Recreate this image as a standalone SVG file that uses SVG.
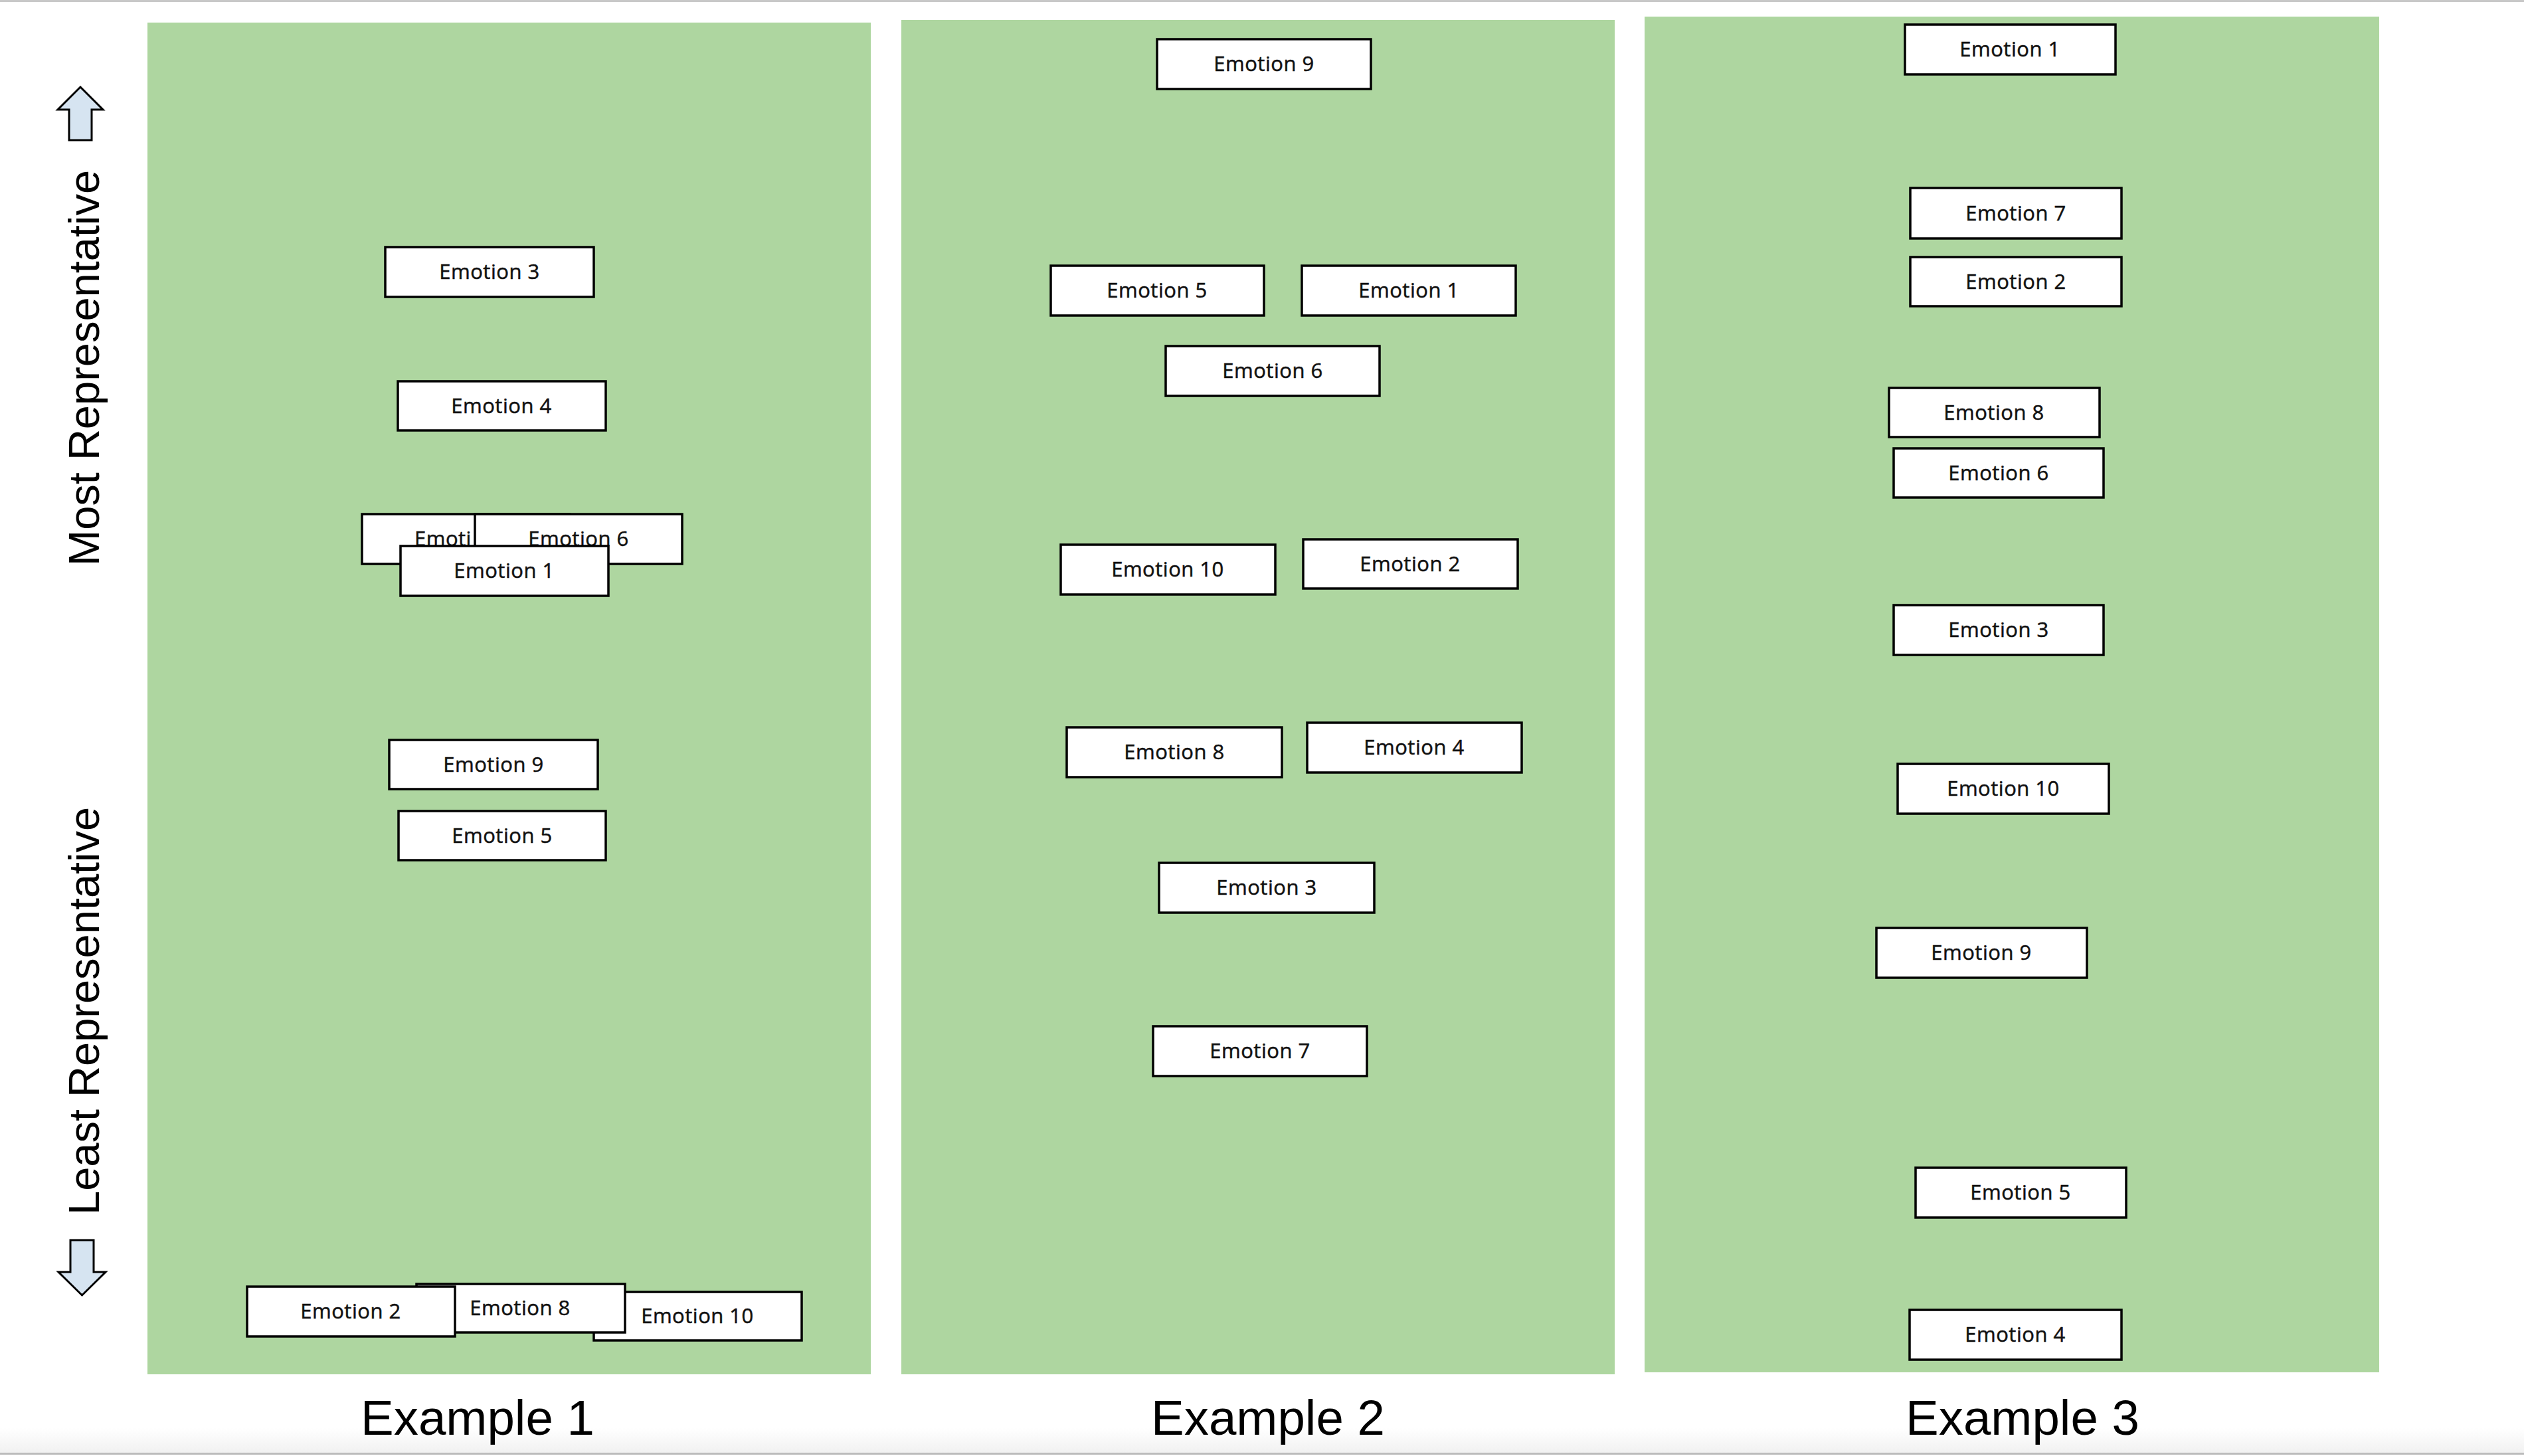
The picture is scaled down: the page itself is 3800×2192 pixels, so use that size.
<svg xmlns="http://www.w3.org/2000/svg" width="3800" height="2192" viewBox="0 0 3800 2192">
<defs>
<style>
.panel{fill:#aed6a0;}
.box{fill:#ffffff;stroke:#000000;stroke-width:3.5;}
.lbl{font-family:"Open Sans","Liberation Sans",sans-serif;font-size:31px;fill:#111111;stroke:#111111;stroke-width:0.5;text-anchor:middle;letter-spacing:0.5px;}
.lbls{font-family:"Open Sans","Liberation Sans",sans-serif;font-size:31px;fill:#111111;stroke:#111111;stroke-width:0.5;letter-spacing:0.5px;}
.ex{font-family:"Liberation Sans",Arial,sans-serif;font-size:74.5px;fill:#000000;}
.axis{font-family:"Liberation Sans",Arial,sans-serif;font-size:65px;fill:#000000;}
.arrow{fill:#d6e4f1;stroke:#000000;stroke-width:3;stroke-linejoin:miter;}
</style>
<linearGradient id="fade" x1="0" y1="0" x2="0" y2="1">
<stop offset="0" stop-color="#ffffff"/>
<stop offset="1" stop-color="#f1f1f1"/>
</linearGradient>
</defs>
<rect x="0" y="0" width="3800" height="2192" fill="#ffffff"/>
<rect x="0" y="2150" width="3800" height="37" fill="url(#fade)"/>
<line x1="0" y1="1.5" x2="3800" y2="1.5" stroke="#c8c8c8" stroke-width="3"/>
<line x1="0" y1="2188.5" x2="3800" y2="2188.5" stroke="#bbbbbb" stroke-width="3"/>

<g id="panels">
<rect id="panel1" class="panel" x="222" y="34" width="1089" height="2035"/>
<rect id="panel2" class="panel" x="1357" y="30" width="1074" height="2039"/>
<rect id="panel3" class="panel" x="2476" y="25" width="1106" height="2041"/>
</g>

<g id="axis">
<polygon class="arrow" points="121,131 155,165 138,165 138,211 104,211 104,165 87,165"/>
<polygon class="arrow" points="106,1867 141,1867 141,1915 159,1915 123.5,1950 88,1915 106,1915"/>
<text class="axis" transform="translate(149,852) rotate(-90)">Most Representative</text>
<text class="axis" transform="translate(149,1829) rotate(-90)">Least Representative</text>
</g>

<g id="titles">
<text class="ex" x="543" y="2160">Example 1</text>
<text class="ex" x="1733" y="2160">Example 2</text>
<text class="ex" x="2869" y="2160">Example 3</text>
</g>

<g id="connectors"></g>

<!-- Example 1 -->
<g id="ex1">
<g id="ex1-e3"><rect class="box" x="580" y="372" width="314" height="75"/><text class="lbl" x="737" y="420">Emotion 3</text></g>
<g id="ex1-e4"><rect class="box" x="599" y="574" width="313" height="74"/><text class="lbl" x="755" y="622">Emotion 4</text></g>
<g id="ex1-e7"><rect class="box" x="545" y="774" width="312" height="75"/><text class="lbls" x="624" y="822">Emoti</text></g>
<g id="ex1-e6"><rect class="box" x="715" y="774" width="312" height="75"/><text class="lbl" x="871" y="822">Emotion 6</text></g>
<g id="ex1-e1"><rect class="box" x="603" y="822" width="313" height="75"/><text class="lbl" x="759" y="870">Emotion 1</text></g>
<g id="ex1-e9"><rect class="box" x="586" y="1114" width="314" height="74"/><text class="lbl" x="743" y="1162">Emotion 9</text></g>
<g id="ex1-e5"><rect class="box" x="600" y="1221" width="312" height="74"/><text class="lbl" x="756" y="1269">Emotion 5</text></g>
<g id="ex1-e10"><rect class="box" x="894" y="1945" width="313" height="73"/><text class="lbl" x="1050" y="1992">Emotion 10</text></g>
<g id="ex1-e8"><rect class="box" x="627" y="1933" width="314" height="73"/><text class="lbl" x="783" y="1980">Emotion 8</text></g>
<g id="ex1-e2"><rect class="box" x="372" y="1937" width="313" height="75"/><text class="lbl" x="528" y="1985">Emotion 2</text></g>
</g>

<!-- Example 2 -->
<g id="ex2">
<g id="ex2-e9"><rect class="box" x="1742" y="59" width="322" height="75"/><text class="lbl" x="1903" y="107">Emotion 9</text></g>
<g id="ex2-e5"><rect class="box" x="1582" y="400" width="321" height="75"/><text class="lbl" x="1742" y="448">Emotion 5</text></g>
<g id="ex2-e1"><rect class="box" x="1960" y="400" width="322" height="75"/><text class="lbl" x="2121" y="448">Emotion 1</text></g>
<g id="ex2-e6"><rect class="box" x="1755" y="521" width="322" height="75"/><text class="lbl" x="1916" y="569">Emotion 6</text></g>
<g id="ex2-e10"><rect class="box" x="1597" y="820" width="323" height="75"/><text class="lbl" x="1758" y="868">Emotion 10</text></g>
<g id="ex2-e2"><rect class="box" x="1962" y="812" width="323" height="74"/><text class="lbl" x="2123" y="860">Emotion 2</text></g>
<g id="ex2-e8"><rect class="box" x="1606" y="1095" width="324" height="75"/><text class="lbl" x="1768" y="1143">Emotion 8</text></g>
<g id="ex2-e4"><rect class="box" x="1968" y="1088" width="323" height="75"/><text class="lbl" x="2129" y="1136">Emotion 4</text></g>
<g id="ex2-e3"><rect class="box" x="1745" y="1299" width="324" height="75"/><text class="lbl" x="1907" y="1347">Emotion 3</text></g>
<g id="ex2-e7"><rect class="box" x="1736" y="1545" width="322" height="75"/><text class="lbl" x="1897" y="1593">Emotion 7</text></g>
</g>

<!-- Example 3 -->
<g id="ex3">
<g id="ex3-e1"><rect class="box" x="2868" y="37" width="317" height="75"/><text class="lbl" x="3026" y="85">Emotion 1</text></g>
<g id="ex3-e7"><rect class="box" x="2876" y="283" width="318" height="76"/><text class="lbl" x="3035" y="332">Emotion 7</text></g>
<g id="ex3-e2"><rect class="box" x="2876" y="387" width="318" height="74"/><text class="lbl" x="3035" y="435">Emotion 2</text></g>
<g id="ex3-e8"><rect class="box" x="2844" y="584" width="317" height="74"/><text class="lbl" x="3002" y="632">Emotion 8</text></g>
<g id="ex3-e6"><rect class="box" x="2851" y="675" width="316" height="74"/><text class="lbl" x="3009" y="723">Emotion 6</text></g>
<g id="ex3-e3"><rect class="box" x="2851" y="911" width="316" height="75"/><text class="lbl" x="3009" y="959">Emotion 3</text></g>
<g id="ex3-e10"><rect class="box" x="2857" y="1150" width="318" height="75"/><text class="lbl" x="3016" y="1198">Emotion 10</text></g>
<g id="ex3-e9"><rect class="box" x="2825" y="1397" width="317" height="75"/><text class="lbl" x="2983" y="1445">Emotion 9</text></g>
<g id="ex3-e5"><rect class="box" x="2884" y="1758" width="317" height="75"/><text class="lbl" x="3042" y="1806">Emotion 5</text></g>
<g id="ex3-e4"><rect class="box" x="2875" y="1972" width="319" height="75"/><text class="lbl" x="3034" y="2020">Emotion 4</text></g>
</g>
</svg>
